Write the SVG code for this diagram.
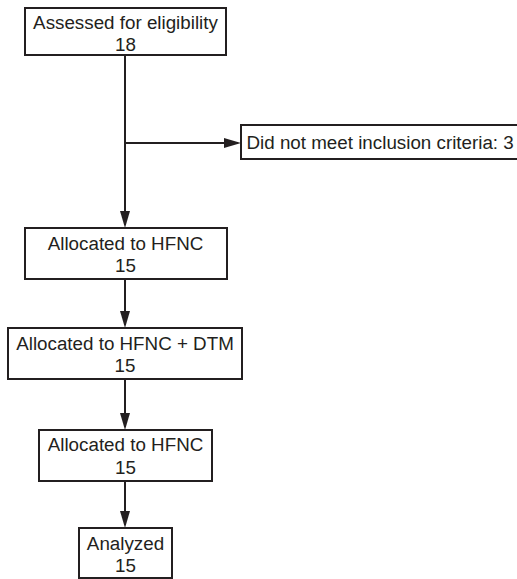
<svg xmlns="http://www.w3.org/2000/svg" width="517" height="579" viewBox="0 0 517 579">
  <style>
    .box { fill: #ffffff; stroke: #231f20; stroke-width: 2; }
    .lbl { font-family: "Liberation Sans", Arial, sans-serif; font-size: 18.8px; fill: #231f20; text-anchor: middle; }
    .side { text-anchor: start; }
    .conn { stroke: #231f20; stroke-width: 2; fill: none; marker-end: url(#arrow); }
  </style>
  <defs>
    <marker id="arrow" markerUnits="userSpaceOnUse" markerWidth="17" markerHeight="10" refX="14" refY="5" orient="auto">
      <path d="M0,0 L17,5 L0,10 z" fill="#231f20"/>
    </marker>
  </defs>
  <rect width="517" height="579" fill="#ffffff"/>

  <g id="connectors">
    <line x1="125" y1="56" x2="125" y2="225" class="conn"/>
    <line x1="125" y1="143" x2="238" y2="143" class="conn"/>
    <line x1="125" y1="279" x2="125" y2="325" class="conn"/>
    <line x1="125" y1="379" x2="125" y2="427" class="conn"/>
    <line x1="125" y1="481" x2="125" y2="525" class="conn"/>
  </g>

  <g id="n1">
    <rect class="box" x="25" y="8" width="201" height="47"/>
    <text class="lbl" x="125.5" y="28.5">Assessed for eligibility</text>
    <text class="lbl" x="125.5" y="51">18</text>
  </g>
  <g id="n_excluded">
    <rect class="box" x="241" y="125" width="290" height="34"/>
    <text class="lbl side" x="246.5" y="149">Did not meet inclusion criteria: 3</text>
  </g>
  <g id="n2">
    <rect class="box" x="25" y="228" width="202" height="51"/>
    <text class="lbl" x="125.5" y="249.5">Allocated to HFNC</text>
    <text class="lbl" x="125.5" y="272">15</text>
  </g>
  <g id="n3">
    <rect class="box" x="8" y="328" width="234" height="51"/>
    <text class="lbl" x="125" y="349.5">Allocated to HFNC + DTM</text>
    <text class="lbl" x="125" y="372">15</text>
  </g>
  <g id="n4">
    <rect class="box" x="39" y="430" width="173" height="51"/>
    <text class="lbl" x="125.5" y="451">Allocated to HFNC</text>
    <text class="lbl" x="125.5" y="473.5">15</text>
  </g>
  <g id="n5">
    <rect class="box" x="79" y="528" width="93" height="50"/>
    <text class="lbl" x="125.5" y="549.5">Analyzed</text>
    <text class="lbl" x="125.5" y="572">15</text>
  </g>
</svg>
